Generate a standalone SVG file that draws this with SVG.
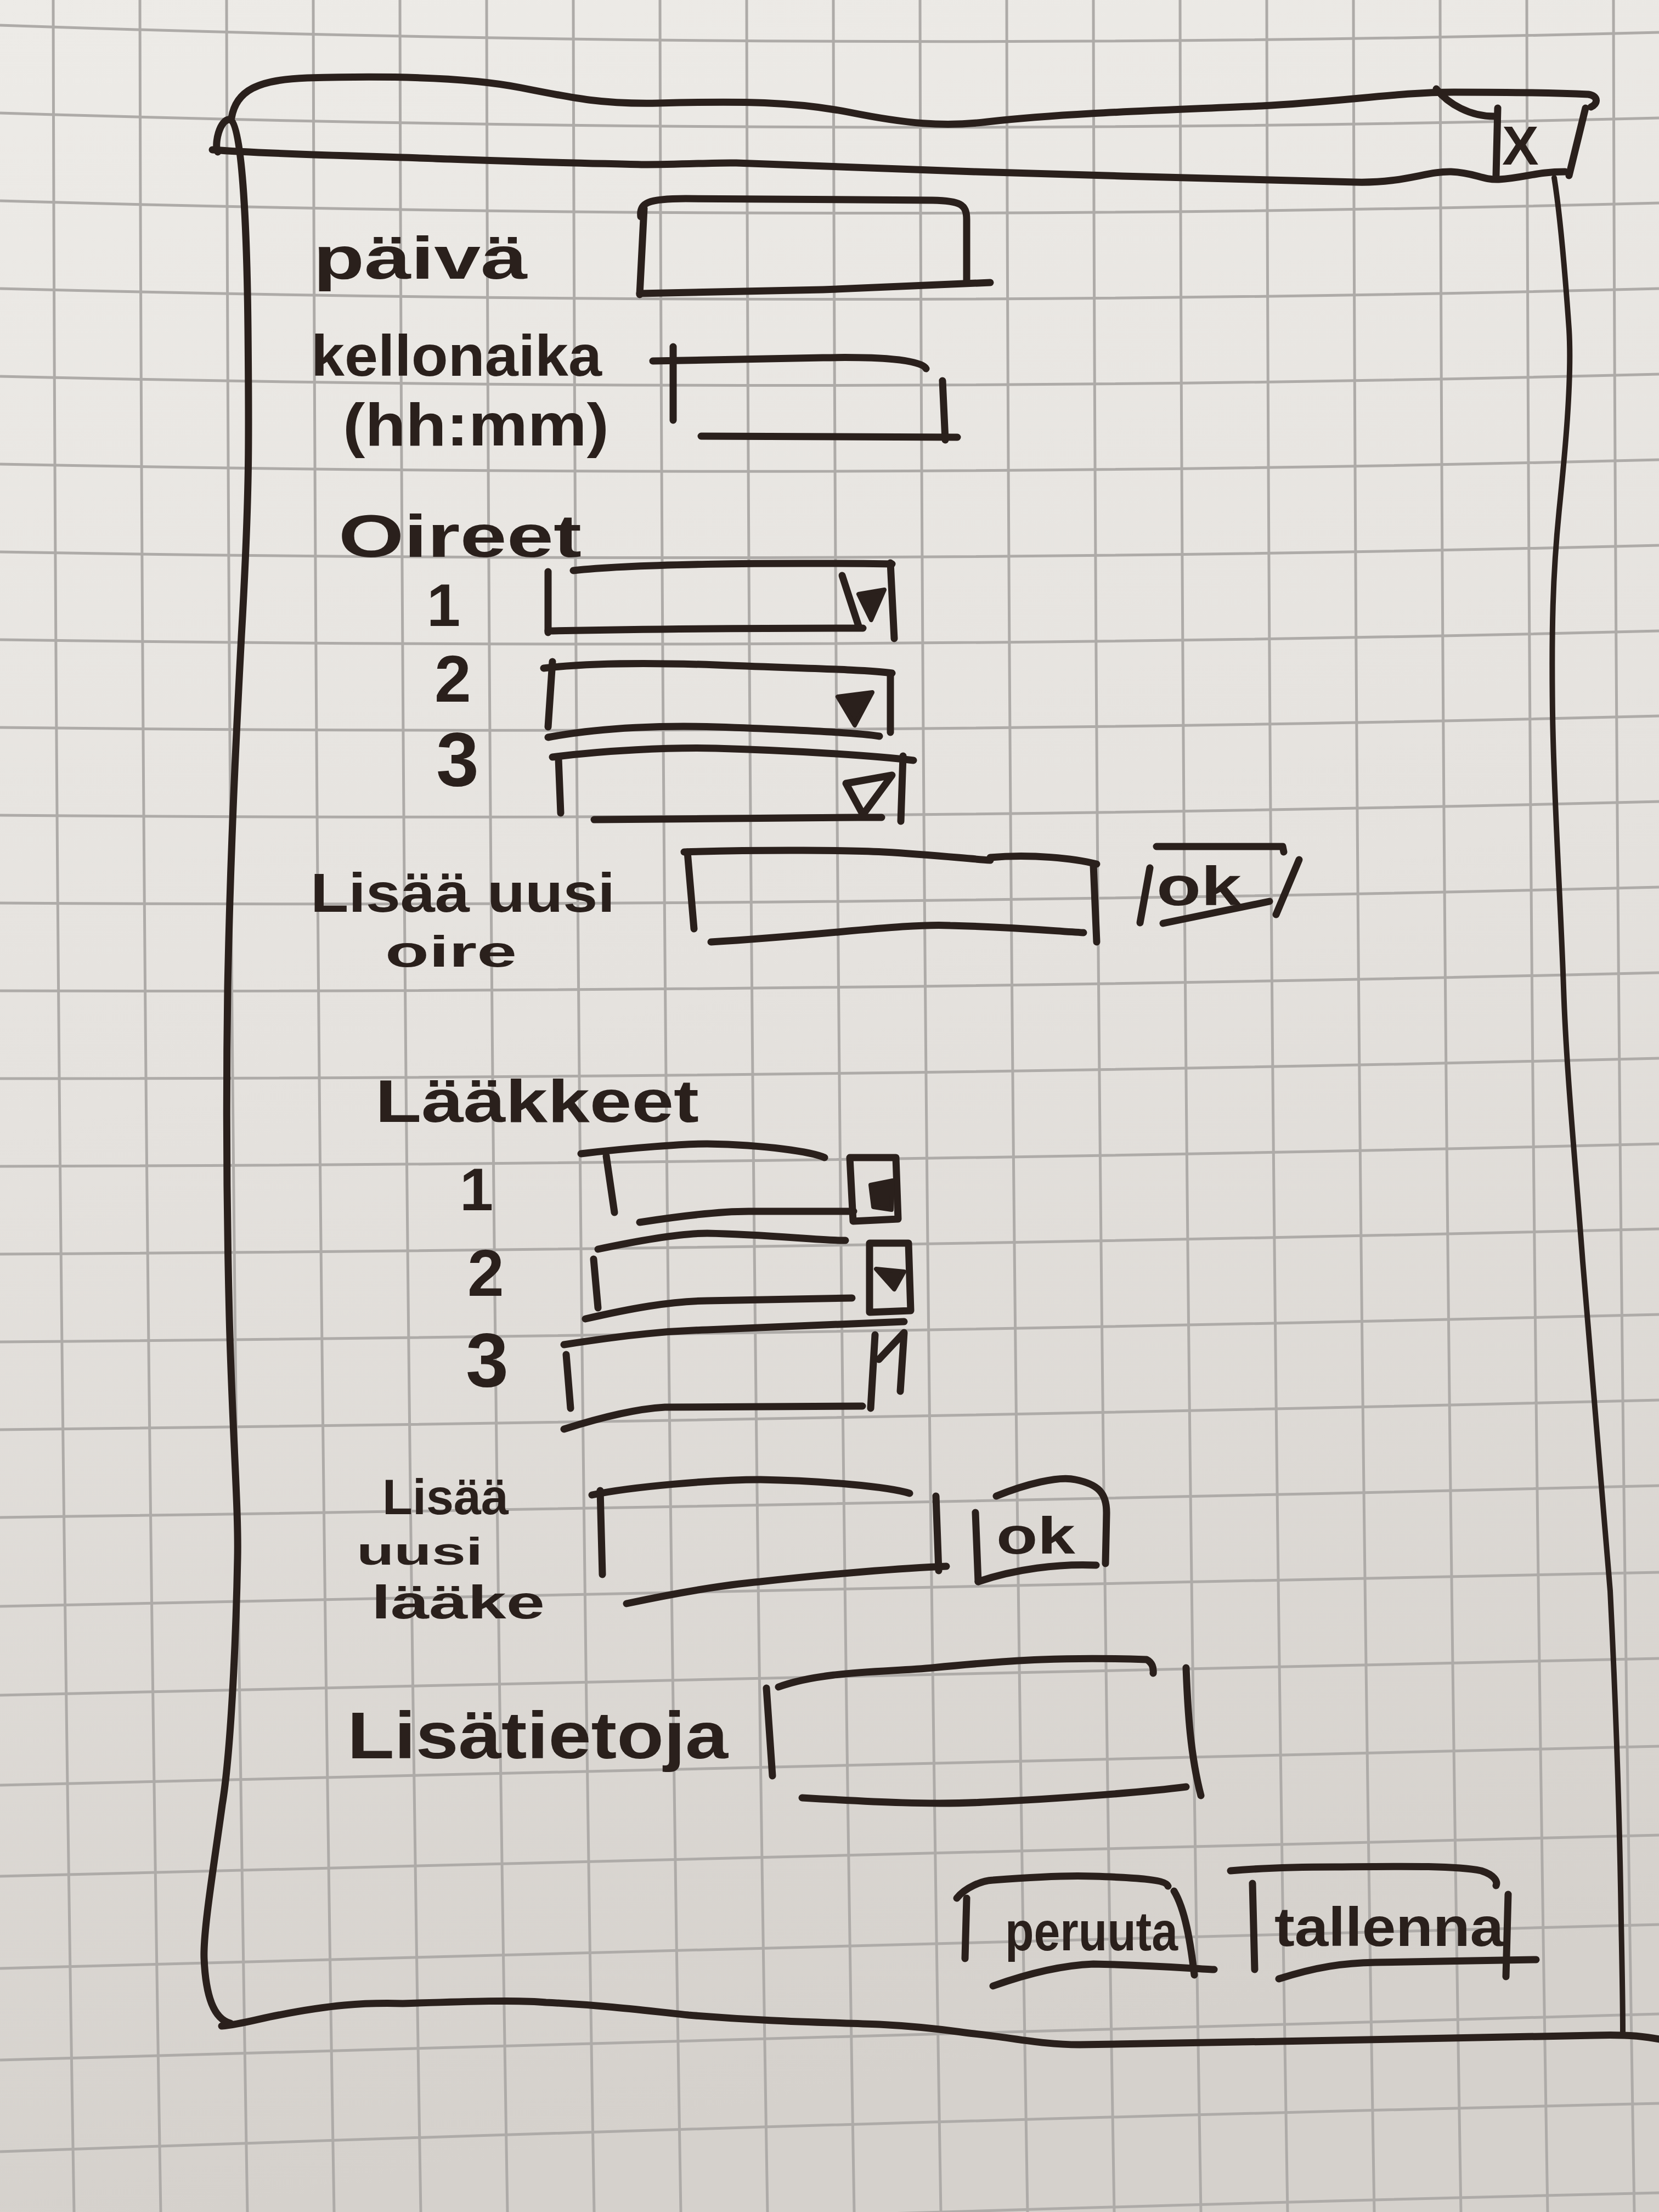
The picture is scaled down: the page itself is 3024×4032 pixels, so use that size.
<svg xmlns="http://www.w3.org/2000/svg" width="3024" height="4032" viewBox="0 0 3024 4032">
<defs>
<linearGradient id="paper" x1="0" y1="0" x2="0.15" y2="1">
<stop offset="0" stop-color="#edebe7"/>
<stop offset="0.5" stop-color="#e5e2de"/>
<stop offset="1" stop-color="#d5d1cc"/>
</linearGradient>
<style>
.ink{fill:none;stroke:#2a201c;stroke-width:13;stroke-linecap:round;stroke-linejoin:round}
.thin{stroke-width:10}
.blob{fill:#2a201c;stroke:#2a201c;stroke-width:8;stroke-linejoin:round}
.lbl{font-family:"Liberation Sans","DejaVu Sans",sans-serif;font-weight:bold;fill:#2a201c}
.grid path{fill:none;stroke:#aeaba8;stroke-width:5}
</style>
</defs>
<rect x="0" y="0" width="3024" height="4032" fill="url(#paper)"/>
<g id="grid-paper" class="grid">
<path d="M97,0 Q101,2016 135,4032"/><path d="M255,0 Q259,2016 293,4032"/><path d="M413,0 Q417,2016 451,4032"/><path d="M571,0 Q575,2016 609,4032"/><path d="M729,0 Q733,2016 767,4032"/><path d="M887,0 Q891,2016 925,4032"/><path d="M1045,0 Q1049,2016 1083,4032"/><path d="M1203,0 Q1207,2016 1241,4032"/><path d="M1361,0 Q1365,2016 1399,4032"/><path d="M1519,0 Q1523,2016 1557,4032"/><path d="M1677,0 Q1681,2016 1715,4032"/><path d="M1835,0 Q1839,2016 1873,4032"/><path d="M1993,0 Q1997,2016 2031,4032"/><path d="M2151,0 Q2155,2016 2189,4032"/><path d="M2309,0 Q2313,2016 2347,4032"/><path d="M2467,0 Q2471,2016 2505,4032"/><path d="M2625,0 Q2629,2016 2663,4032"/><path d="M2783,0 Q2787,2016 2821,4032"/><path d="M2941,0 Q2945,2016 2979,4032"/>
<path d="M0,46 Q1512,98 3024,59"/><path d="M0,206 Q1512,253 3024,215"/><path d="M0,366 Q1512,409 3024,370"/><path d="M0,526 Q1512,565 3024,526"/><path d="M0,686 Q1512,721 3024,682"/><path d="M0,846 Q1512,876 3024,838"/><path d="M0,1006 Q1512,1032 3024,994"/><path d="M0,1166 Q1512,1188 3024,1150"/><path d="M0,1326 Q1512,1343 3024,1305"/><path d="M0,1486 Q1512,1499 3024,1461"/><path d="M0,1646 Q1512,1655 3024,1617"/><path d="M0,1806 Q1512,1810 3024,1773"/><path d="M0,1966 Q1512,1966 3024,1929"/><path d="M0,2126 Q1512,2122 3024,2085"/><path d="M0,2286 Q1512,2277 3024,2240"/><path d="M0,2446 Q1512,2433 3024,2396"/><path d="M0,2606 Q1512,2589 3024,2552"/><path d="M0,2766 Q1512,2745 3024,2708"/><path d="M0,2928 Q1512,2902 3024,2866"/><path d="M0,3090 Q1512,3060 3024,3023"/><path d="M0,3254 Q1512,3219 3024,3183"/><path d="M0,3420 Q1512,3381 3024,3345"/><path d="M0,3588 Q1512,3544 3024,3508"/><path d="M0,3755 Q1512,3707 3024,3671"/><path d="M0,3922 Q1512,3869 3024,3834"/><path d="M0,4090 Q1512,4033 3024,3997"/>
</g>
<g id="window-frame">
<path class="ink" d="M422,215 C430,165 470,145 560,142 C700,138 850,140 950,160 C1050,180 1100,190 1200,188 C1350,184 1450,185 1550,205 C1650,225 1720,232 1800,222 C1950,205 2150,200 2300,193 C2450,185 2550,168 2650,168 C2750,168 2850,170 2895,172 C2915,175 2912,190 2900,195"/>
<path class="ink" d="M387,273 C500,282 700,285 821,290 C950,295 1050,297 1169,300 C1250,300 1300,296 1342,297 C1500,303 1650,308 1776,313 C2000,320 2300,328 2471,332 C2560,334 2600,312 2645,313 C2690,315 2700,328 2732,327 C2780,324 2800,313 2853,313"/>
<path class="ink" d="M397,277 C390,265 400,215 420,218 C440,222 450,400 452,600 C454,800 455,900 440,1160 C430,1350 420,1550 415,1800 C412,2000 413,2200 418,2400 C423,2600 435,2750 433,2840 C430,3000 420,3200 405,3290 C390,3400 370,3520 372,3570 C375,3640 390,3680 420,3688"/>
<path class="ink" d="M404,3693 C440,3690 470,3680 508,3673 C600,3655 660,3650 734,3652 C850,3648 950,3645 995,3650 C1100,3655 1180,3665 1255,3673 C1400,3685 1500,3686 1603,3690 C1700,3695 1740,3703 1776,3707 C1850,3715 1900,3727 1968,3727 C2100,3725 2250,3722 2384,3720 C2600,3716 2800,3712 2905,3710 C2960,3708 3000,3712 3024,3717"/>
<path class="ink thin" d="M2833,324 C2845,400 2853,500 2860,600 C2866,700 2850,850 2842,930 C2830,1050 2828,1150 2830,1300 C2832,1450 2845,1650 2850,1800 C2855,1950 2870,2100 2885,2300 C2900,2500 2920,2700 2935,2900 C2945,3100 2952,3300 2955,3500 C2957,3600 2958,3660 2958,3705"/>
</g>
<g id="close-button">
<path class="ink" d="M2618,162 C2640,190 2680,212 2723,212"/>
<path class="ink" d="M2730,197 L2727,320"/>
<path class="ink" d="M2890,197 L2860,320"/>
<text class="lbl" x="2738" y="300" font-size="100">X</text>
</g>
<g id="field-paiva">
<text class="lbl" x="571" y="508" font-size="110" textLength="390" lengthAdjust="spacingAndGlyphs">päivä</text>
<path class="ink" d="M1168,395 C1165,370 1180,362 1250,362 L1700,365 C1750,366 1762,372 1762,400 L1762,512"/>
<path class="ink" d="M1174,380 L1166,537"/>
<path class="ink" d="M1166,535 L1500,528 L1805,515"/>
</g>
<g id="field-kellonaika">
<text class="lbl" x="567" y="685" font-size="105" textLength="530" lengthAdjust="spacingAndGlyphs">kellonaika</text>
<text class="lbl" x="625" y="812" font-size="110" textLength="485" lengthAdjust="spacingAndGlyphs">(hh:mm)</text>
<path class="ink" d="M1190,658 L1500,652 C1600,650 1680,655 1688,672"/>
<path class="ink" d="M1227,632 L1227,766"/>
<path class="ink" d="M1718,694 L1723,802"/>
<path class="ink" d="M1278,795 L1745,797"/>
</g>
<g id="oireet">
<text class="lbl" x="617" y="1015" font-size="110" textLength="443" lengthAdjust="spacingAndGlyphs">Oireet</text>
<g id="oire-1">
<text class="lbl" x="778" y="1141" font-size="110">1</text>
<path class="ink" d="M1045,1040 C1150,1028 1400,1025 1626,1028"/>
<path class="ink" d="M999,1042 L999,1153"/>
<path class="ink" d="M999,1150 C1200,1146 1400,1145 1573,1145"/>
<path class="ink" d="M1535,1049 L1565,1141"/>
<path class="ink" d="M1623,1026 L1630,1164"/>
<path class="blob" d="M1565,1083 L1612,1075 L1588,1130 Z"/>
</g>
<g id="oire-2">
<text class="lbl" x="792" y="1279" font-size="120">2</text>
<path class="ink" d="M991,1218 C1100,1205 1250,1210 1305,1212 C1450,1218 1580,1220 1626,1227"/>
<path class="ink" d="M1007,1206 L999,1325"/>
<path class="ink" d="M999,1344 C1100,1325 1220,1322 1305,1325 C1450,1330 1560,1335 1603,1342"/>
<path class="ink" d="M1623,1227 L1623,1335"/>
<path class="blob" d="M1527,1270 L1590,1262 L1558,1322 Z"/>
</g>
<g id="oire-3">
<text class="lbl" x="795" y="1432" font-size="140">3</text>
<path class="ink" d="M1007,1380 C1100,1368 1220,1362 1305,1364 C1450,1368 1600,1378 1665,1386"/>
<path class="ink" d="M1018,1383 L1022,1482"/>
<path class="ink" d="M1646,1378 L1642,1497"/>
<path class="ink" d="M1083,1494 C1300,1492 1450,1490 1607,1490"/>
<path class="ink" d="M1542,1428 L1626,1413 L1573,1485 Z"/>
</g>
</g>
<g id="lisaa-oire">
<text class="lbl" x="566" y="1662" font-size="100" textLength="555" lengthAdjust="spacingAndGlyphs">Lisää uusi</text>
<text class="lbl" x="702" y="1762" font-size="80" textLength="240" lengthAdjust="spacingAndGlyphs">oire</text>
<path class="ink" d="M1247,1553 C1400,1548 1550,1550 1611,1553 C1700,1558 1760,1565 1805,1568"/>
<path class="ink" d="M1805,1563 C1880,1556 1960,1565 1999,1575"/>
<path class="ink" d="M1253,1553 L1265,1693"/>
<path class="ink" d="M1993,1577 L1999,1717"/>
<path class="ink" d="M1296,1717 C1500,1705 1650,1683 1732,1687 C1850,1690 1920,1697 1975,1700"/>
</g>
<g id="ok-oire">
<path class="ink" d="M2108,1543 L2338,1543 L2340,1553"/>
<path class="ink" d="M2096,1582 L2078,1682"/>
<path class="ink" d="M2368,1567 L2326,1667"/>
<text class="lbl" x="2108" y="1650" font-size="100" textLength="155" lengthAdjust="spacingAndGlyphs">ok</text>
<path class="ink" d="M2120,1683 L2314,1643"/>
</g>
<g id="laakkeet">
<text class="lbl" x="684" y="2045" font-size="110" textLength="590" lengthAdjust="spacingAndGlyphs">Lääkkeet</text>
<g id="laake-1">
<text class="lbl" x="838" y="2206" font-size="110">1</text>
<path class="ink" d="M1059,2103 C1150,2092 1250,2085 1289,2085 C1400,2087 1480,2100 1503,2110"/>
<path class="ink" d="M1105,2107 L1120,2210"/>
<path class="ink" d="M1166,2228 C1250,2215 1320,2208 1365,2208 L1556,2208"/>
<path class="ink" d="M1549,2110 L1633,2110 L1637,2222 L1555,2226 Z"/>
<path class="blob" d="M1587,2160 L1627,2152 L1625,2205 L1592,2200 Z"/>
</g>
<g id="laake-2">
<text class="lbl" x="852" y="2362" font-size="120">2</text>
<path class="ink" d="M1090,2277 C1180,2258 1250,2248 1289,2248 C1400,2250 1500,2262 1541,2261"/>
<path class="ink" d="M1082,2295 L1090,2384"/>
<path class="ink" d="M1067,2404 C1150,2385 1220,2372 1289,2371 L1553,2366"/>
<path class="ink" d="M1585,2266 L1656,2266 L1660,2389 L1585,2392 Z"/>
<path class="blob" d="M1597,2313 L1648,2318 L1630,2350 Z"/>
</g>
<g id="laake-3">
<text class="lbl" x="849" y="2527" font-size="140">3</text>
<path class="ink" d="M1028,2451 C1150,2432 1220,2426 1289,2424 C1450,2418 1580,2412 1648,2409"/>
<path class="ink" d="M1032,2469 L1040,2567"/>
<path class="ink" d="M1028,2605 C1100,2582 1160,2568 1212,2565 L1572,2563"/>
<path class="ink" d="M1595,2433 L1587,2567"/>
<path class="ink" d="M1602,2478 L1648,2429 L1641,2536"/>
</g>
</g>
<g id="lisaa-laake">
<text class="lbl" x="697" y="2760" font-size="90" textLength="230" lengthAdjust="spacingAndGlyphs">Lisää</text>
<text class="lbl" x="650" y="2852" font-size="70" textLength="230" lengthAdjust="spacingAndGlyphs">uusi</text>
<text class="lbl" x="677" y="2950" font-size="85" textLength="316" lengthAdjust="spacingAndGlyphs">lääke</text>
<path class="ink" d="M1079,2725 C1150,2710 1300,2697 1386,2697 C1500,2699 1620,2710 1658,2722"/>
<path class="ink" d="M1094,2717 L1098,2870"/>
<path class="ink" d="M1706,2727 L1711,2863"/>
<path class="ink" d="M1142,2923 C1250,2900 1330,2888 1386,2883 C1500,2870 1650,2858 1725,2855"/>
</g>
<g id="ok-laake">
<path class="ink" d="M1778,2757 L1783,2883"/>
<path class="ink" d="M1816,2727 C1870,2705 1930,2690 1960,2697 C2000,2705 2018,2720 2017,2760 L2015,2850"/>
<path class="ink" d="M1783,2883 C1850,2860 1930,2850 1998,2853"/>
<text class="lbl" x="1816" y="2832" font-size="95" textLength="144" lengthAdjust="spacingAndGlyphs">ok</text>
</g>
<g id="lisatietoja">
<text class="lbl" x="633" y="3205" font-size="120" textLength="694" lengthAdjust="spacingAndGlyphs">Lisätietoja</text>
<path class="ink" d="M1397,3077 L1408,3237"/>
<path class="ink" d="M1419,3075 C1500,3045 1620,3048 1700,3040 C1850,3025 1950,3020 2090,3025 C2100,3030 2103,3040 2102,3050"/>
<path class="ink" d="M2162,3040 C2165,3120 2170,3200 2189,3273"/>
<path class="ink" d="M1462,3277 C1600,3285 1700,3290 1793,3285 C1950,3278 2100,3265 2162,3257"/>
</g>
<g id="btn-peruuta">
<path class="ink" d="M1744,3460 C1760,3440 1790,3428 1810,3427 C1900,3420 1950,3418 1993,3420 C2060,3422 2125,3425 2129,3438"/>
<path class="ink" d="M1762,3460 L1759,3570"/>
<path class="ink" d="M2140,3447 C2160,3480 2170,3540 2177,3600"/>
<path class="ink" d="M1810,3620 C1880,3595 1940,3582 1993,3580 C2100,3582 2170,3588 2213,3590"/>
<text class="lbl" x="1832" y="3555" font-size="100" textLength="315" lengthAdjust="spacingAndGlyphs">peruuta</text>
</g>
<g id="btn-tallenna">
<path class="ink" d="M2243,3410 C2300,3405 2380,3403 2433,3403 C2550,3402 2650,3400 2700,3410 C2725,3418 2730,3430 2727,3437"/>
<path class="ink" d="M2283,3433 L2287,3590"/>
<path class="ink" d="M2749,3453 L2745,3603"/>
<path class="ink" d="M2331,3607 C2400,3585 2450,3578 2507,3577 C2650,3575 2750,3572 2800,3572"/>
<text class="lbl" x="2323" y="3547" font-size="100" textLength="418" lengthAdjust="spacingAndGlyphs">tallenna</text>
</g>
<g id="connectors"/>
</svg>
